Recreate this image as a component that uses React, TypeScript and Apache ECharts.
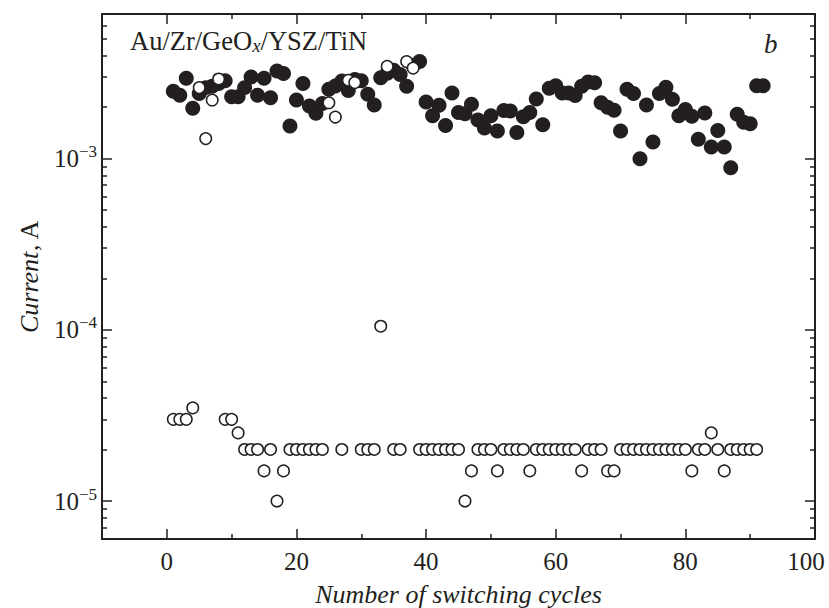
import React, { useEffect, useRef } from 'react';
import * as echarts from 'echarts';

// Current in the low-resistance state (filled circles), cycles 1..92, in A
const LRS_CURRENT = [
  2.48e-3, 2.35e-3, 2.95e-3, 1.97e-3, 2.4e-3, 2.6e-3, 2.65e-3, 2.75e-3, 2.85e-3, 2.3e-3,
  2.3e-3, 2.6e-3, 3.0e-3, 2.35e-3, 2.95e-3, 2.27e-3, 3.25e-3, 3.14e-3, 1.55e-3, 2.2e-3,
  2.75e-3, 2.03e-3, 1.84e-3, 2.1e-3, 2.54e-3, 2.66e-3, 2.84e-3, 2.5e-3, 2.9e-3, 2.85e-3,
  2.38e-3, 2.06e-3, 2.97e-3, 3.15e-3, 3.28e-3, 3.1e-3, 2.65e-3, 3.5e-3, 3.69e-3, 2.14e-3,
  1.78e-3, 2.05e-3, 1.56e-3, 2.42e-3, 1.86e-3, 1.83e-3, 2.08e-3, 1.68e-3, 1.51e-3, 1.78e-3,
  1.45e-3, 1.91e-3, 1.9e-3, 1.42e-3, 1.76e-3, 1.86e-3, 2.23e-3, 1.58e-3, 2.58e-3, 2.67e-3,
  2.42e-3, 2.42e-3, 2.34e-3, 2.65e-3, 2.8e-3, 2.78e-3, 2.12e-3, 2.0e-3, 1.92e-3, 1.45e-3,
  2.54e-3, 2.4e-3, 1.0e-3, 2.06e-3, 1.25e-3, 2.4e-3, 2.61e-3, 2.22e-3, 1.78e-3, 1.94e-3,
  1.77e-3, 1.3e-3, 1.85e-3, 1.17e-3, 1.46e-3, 1.17e-3, 0.886e-3, 1.82e-3, 1.63e-3, 1.6e-3,
  2.67e-3, 2.67e-3,
];

// Current in the high-resistance state (open circles), cycles 1..91, in A
const HRS_CURRENT = [
  3e-5, 3e-5, 3e-5, 3.5e-5, 2.6e-3, 1.31e-3, 2.2e-3, 2.92e-3, 3e-5, 3e-5,
  2.5e-5, 2e-5, 2e-5, 2e-5, 1.5e-5, 2e-5, 1e-5, 1.5e-5, 2e-5, 2e-5,
  2e-5, 2e-5, 2e-5, 2e-5, 2.12e-3, 1.75e-3, 2e-5, 2.87e-3, 2.78e-3, 2e-5,
  2e-5, 2e-5, 1.05e-4, 3.46e-3, 2e-5, 2e-5, 3.69e-3, 3.38e-3, 2e-5, 2e-5,
  2e-5, 2e-5, 2e-5, 2e-5, 2e-5, 1e-5, 1.5e-5, 2e-5, 2e-5, 2e-5,
  1.5e-5, 2e-5, 2e-5, 2e-5, 2e-5, 1.5e-5, 2e-5, 2e-5, 2e-5, 2e-5,
  2e-5, 2e-5, 2e-5, 1.5e-5, 2e-5, 2e-5, 2e-5, 1.5e-5, 1.5e-5, 2e-5,
  2e-5, 2e-5, 2e-5, 2e-5, 2e-5, 2e-5, 2e-5, 2e-5, 2e-5, 2e-5,
  1.5e-5, 2e-5, 2e-5, 2.5e-5, 2e-5, 1.5e-5, 2e-5, 2e-5, 2e-5, 2e-5,
  2e-5,
];

const X_MAJOR = [0, 20, 40, 60, 80, 100];
const X_MINOR = [10, 30, 50, 70, 90];
const Y_MAJOR = [1e-5, 1e-4, 1e-3];
const Y_MINOR = [
  7e-6, 8e-6, 9e-6,
  2e-5, 3e-5, 4e-5, 5e-5, 6e-5, 7e-5, 8e-5, 9e-5,
  2e-4, 3e-4, 4e-4, 5e-4, 6e-4, 7e-4, 8e-4, 9e-4,
  2e-3, 3e-3, 4e-3, 5e-3, 6e-3,
];

const INK = '#231f20';
const SERIF = "'Liberation Serif', 'Times New Roman', serif";
const X_MIN = -10;
const X_MAX = 100;
const Y_MIN = 6e-6;
const Y_MAX = 7e-3;

export default function App() {
  const ref = useRef<HTMLDivElement>(null);

  useEffect(() => {
    if (!ref.current) return;
    const chart = echarts.init(ref.current, null, { renderer: 'svg' });

    const line = { show: true, onZero: false, lineStyle: { color: INK, width: 2 } };
    const noLine = { show: false, onZero: false };
    const tick = (len: number, vals: number[]) => ({
      show: true, inside: true, length: len, customValues: vals,
      lineStyle: { color: INK, width: 1.5 },
    });
    const noLabel = { show: false };
    const noSplit = { show: false };

    const xBase = { type: 'value', min: X_MIN, max: X_MAX, splitLine: noSplit };
    const yBase = { type: 'log', logBase: 10, min: Y_MIN, max: Y_MAX, splitLine: noSplit };

    const option: any = {
      animation: false,
      backgroundColor: '#ffffff',
      grid: { left: 102, right: 14, top: 14, bottom: 69, containLabel: false, outerBoundsMode: 'none' },
      xAxis: [
        {
          ...xBase, position: 'bottom', axisLine: line, axisTick: tick(10, X_MAJOR),
          axisLabel: {
            customValues: X_MAJOR, color: INK, margin: 10,
            formatter: (v: number) => (v >= X_MAX ? '{e|' + v + '}' : '{n|' + v + '}'),
            rich: {
              n: { fontFamily: SERIF, fontSize: 25, color: INK },
              e: { fontFamily: SERIF, fontSize: 25, color: INK, padding: [0, 18, 0, 0] },
            },
          },
          name: 'Number of switching cycles', nameLocation: 'middle', nameGap: 42,
          nameTextStyle: { fontFamily: SERIF, fontSize: 26, fontStyle: 'italic', color: INK },
        },
        { ...xBase, position: 'bottom', axisLine: noLine, axisTick: tick(5, X_MINOR), axisLabel: noLabel },
        { ...xBase, position: 'top', axisLine: line, axisTick: tick(10, X_MAJOR), axisLabel: noLabel },
        { ...xBase, position: 'top', axisLine: noLine, axisTick: tick(5, X_MINOR), axisLabel: noLabel },
      ],
      yAxis: [
        {
          ...yBase, position: 'left', axisLine: line, axisTick: tick(10, Y_MAJOR),
          axisLabel: {
            customValues: Y_MAJOR, margin: 5, color: INK,
            formatter: (v: number) => '{b|10}{s|\u2212' + Math.abs(Math.round(Math.log10(v))) + '}',
            rich: {
              b: { fontFamily: SERIF, fontSize: 25, color: INK },
              s: { fontFamily: SERIF, fontSize: 17, color: INK, padding: [0, 0, 14, 0] },
            },
          },
          name: '{i|Current}{r|, A}', nameLocation: 'middle', nameGap: 60,
          nameTextStyle: {
            rich: {
              i: { fontFamily: SERIF, fontSize: 26, fontStyle: 'italic', color: INK },
              r: { fontFamily: SERIF, fontSize: 26, color: INK },
            },
          },
        },
        { ...yBase, position: 'left', axisLine: noLine, axisTick: tick(5, Y_MINOR), axisLabel: noLabel },
        { ...yBase, position: 'right', axisLine: line, axisTick: tick(10, Y_MAJOR), axisLabel: noLabel },
        { ...yBase, position: 'right', axisLine: noLine, axisTick: tick(5, Y_MINOR), axisLabel: noLabel },
      ],
      series: [
        {
          type: 'scatter', xAxisIndex: 0, yAxisIndex: 0,
          symbol: 'circle', symbolSize: 15,
          itemStyle: { color: INK, opacity: 1 },
          data: LRS_CURRENT.map((v, i) => [i + 1, v]),
        },
        {
          type: 'scatter', xAxisIndex: 0, yAxisIndex: 0,
          symbol: 'circle', symbolSize: 11.5,
          itemStyle: { color: '#ffffff', borderColor: INK, borderWidth: 1.5, opacity: 1 },
          data: HRS_CURRENT.map((v, i) => [i + 1, v]),
        },
      ],
      graphic: [
        {
          type: 'text', left: 130, top: 27,
          style: {
            text: '{a|Au/Zr/GeO}{x|x}{a|/YSZ/TiN}',
            rich: {
              a: { fontFamily: SERIF, fontSize: 26.5, fill: INK },
              x: { fontFamily: SERIF, fontSize: 19, fontStyle: 'italic', fill: INK, padding: [10, 0, 0, 0] },
            },
          },
        },
        {
          type: 'text', left: 764, top: 30,
          style: { text: 'b', fontFamily: SERIF, fontSize: 27, fontStyle: 'italic', fill: INK },
        },
      ],
    };

    chart.setOption(option);
    return () => chart.dispose();
  }, []);

  return (
    <div
      ref={ref}
      style={{ position: 'fixed', left: 0, top: 0, width: 829, height: 608, background: '#fff' }}
    />
  );
}
